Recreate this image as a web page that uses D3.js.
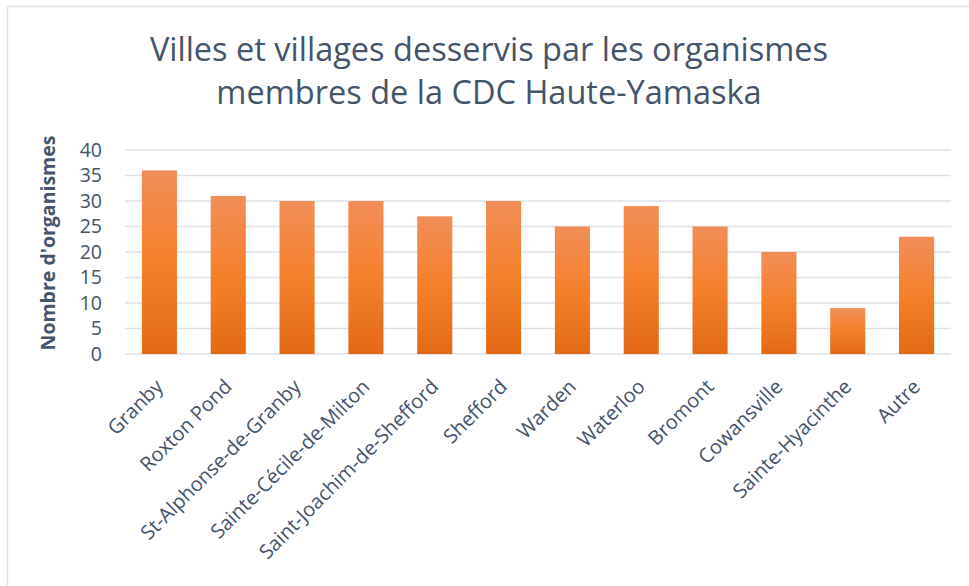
<!DOCTYPE html>
<html>
<head>
<meta charset="utf-8">
<script src="https://cdn.jsdelivr.net/npm/d3@7"></script>
<style>
  body { margin: 0; background: #fff; }
  svg text { font-family: "Open Sans", sans-serif; fill: #44546a; }
</style>
</head>
<body>
<svg id="chart"></svg>
<script>
// Data
var villes = ["Granby", "Roxton Pond", "St-Alphonse-de-Granby", "Sainte-Cécile-de-Milton",
  "Saint-Joachim-de-Shefford", "Shefford", "Warden", "Waterloo", "Bromont",
  "Cowansville", "Sainte-Hyacinthe", "Autre"];
var organismes = [36, 31, 30, 30, 27, 30, 25, 29, 25, 20, 9, 23];
var yTicks = [0, 5, 10, 15, 20, 25, 30, 35, 40];
var titleLines = ["Villes et villages desservis par les organismes", "membres de la CDC Haute-Yamaska"];

var svgWidth = 969;
var svgHeight = 586;
var margin = { top: 150, right: 18, bottom: 232, left: 125 };
var chartWidth = svgWidth - margin.left - margin.right;
var chartHeight = svgHeight - margin.top - margin.bottom;

var svg = d3.select("#chart")
  .attr("width", svgWidth)
  .attr("height", svgHeight);

// frame (only top and left edges are visible in the picture)
svg.append("path")
  .attr("d", "M7.5," + svgHeight + "V6.5H" + svgWidth)
  .attr("fill", "none")
  .attr("stroke", "#dde3ea")
  .attr("stroke-width", 1.5);

// gradient for the bars
var grad = svg.append("defs").append("linearGradient")
  .attr("id", "barGrad")
  .attr("x1", 0).attr("y1", 0).attr("x2", 0).attr("y2", 1);
grad.append("stop").attr("offset", "0%").attr("stop-color", "#f18e58");
grad.append("stop").attr("offset", "50%").attr("stop-color", "#f5802b");
grad.append("stop").attr("offset", "100%").attr("stop-color", "#e26a16");

// title
svg.append("text")
  .attr("text-anchor", "middle")
  .attr("x", 489)
  .attr("y", 61)
  .style("font-size", "32.5px")
  .selectAll("tspan")
  .data(titleLines)
  .enter()
  .append("tspan")
  .attr("x", 489)
  .attr("dy", function (d, i) { return i === 0 ? 0 : 43; })
  .text(function (d) { return d; });

var chart = svg.append("g")
  .attr("transform", "translate(" + margin.left + "," + margin.top + ")");

var xScale = d3.scaleBand()
  .domain(villes)
  .range([0, chartWidth])
  .paddingInner(0.49)
  .paddingOuter(0.245);

var yScale = d3.scaleLinear()
  .domain([0, 40])
  .range([chartHeight, 0]);

// gridlines
chart.selectAll(".grid")
  .data(yTicks)
  .enter()
  .append("line")
  .attr("class", "grid")
  .attr("x1", 0)
  .attr("x2", chartWidth)
  .attr("y1", function (d) { return yScale(d); })
  .attr("y2", function (d) { return yScale(d); })
  .attr("stroke", "#dde1e6")
  .attr("stroke-width", 1.5);

// bars
chart.selectAll(".bar")
  .data(organismes)
  .enter()
  .append("rect")
  .attr("class", "bar")
  .attr("x", function (d, i) { return xScale(villes[i]); })
  .attr("y", function (d) { return yScale(d); })
  .attr("width", xScale.bandwidth())
  .attr("height", function (d) { return chartHeight - yScale(d); })
  .attr("fill", "url(#barGrad)");

// y axis
var yAxis = chart.append("g")
  .attr("class", "axis")
  .call(d3.axisLeft(yScale).tickValues(yTicks).tickSize(0).tickPadding(23));
yAxis.select(".domain").remove();
yAxis.selectAll("text").style("font-size", "19.5px");

// x axis
var xAxis = chart.append("g")
  .attr("class", "axis")
  .attr("transform", "translate(0," + chartHeight + ")")
  .call(d3.axisBottom(xScale).tickSize(0));
xAxis.select(".domain").remove();
xAxis.selectAll("text")
  .style("font-size", "20px")
  .style("text-anchor", "end")
  .attr("x", 0)
  .attr("y", 0)
  .attr("dx", 0)
  .attr("dy", "0.35em")
  .attr("transform", "translate(0,29) rotate(-45)");

// y axis title
svg.append("text")
  .attr("transform", "translate(55,243) rotate(-90)")
  .attr("text-anchor", "middle")
  .style("font-size", "19.5px")
  .style("font-weight", "bold")
  .text("Nombre d'organismes");
</script>
</body>
</html>
